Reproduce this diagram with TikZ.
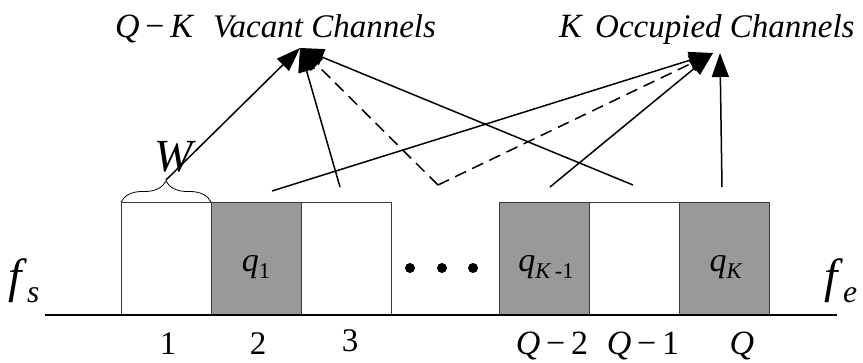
\documentclass[tikz,border=0pt]{standalone}
\usepackage{fontspec}
\setmainfont{Liberation Serif}
\usetikzlibrary{arrows.meta,positioning,calc,decorations.pathreplacing}
\definecolor{chGray}{HTML}{999999}
\definecolor{chEdge}{HTML}{3A3A3A}
\newcommand{\fsz}[1]{\fontsize{#1}{#1}\selectfont}
\newcommand{\sub}[1]{\raisebox{-0.45ex}{\scalebox{0.66}{#1}}}

\begin{document}
\begin{tikzpicture}[x=1pt,y=-1pt,
  b/.style={draw=chEdge, fill=white, line width=0.8pt, minimum width=90pt,
            minimum height=113pt, inner sep=0pt, outer sep=0pt},
  o/.style={b, fill=chGray},
  a/.style={-{Triangle[length=24pt,width=17pt]}, draw=black, line width=1.5pt},
  ad/.style={a, dash pattern=on 12pt off 7pt},
  lb/.style={font=\fsz{34}, inner sep=0pt},
  dot/.style={circle, fill=black, minimum size=10pt, inner sep=0pt}]
  \useasboundingbox (0,0) rectangle (863,363);
  % channels
  \node[b] (c1) at (166,258.5) {};
  \node[o, right=0pt of c1] (c2) {};
  \node[b, right=0pt of c2] (c3) {};
  \node[o] (cq2) at (544,258.5) {};
  \node[b, right=0pt of cq2] (cq1) {};
  \node[o, right=0pt of cq1] (cq) {};
  \node[lb] (q1) at ($(c2)+(0,9)$) {\textit{q}\sub{1}};
  \node[lb] (qk1) at ($(cq2)+(2,9)$) {\textit{q}\sub{\textit{K}\,-1}};
  \node[lb] (qk) at ($(cq)+(2,9)$) {\textit{q}\sub{\textit{K}}};
  \node[dot] (d1) at (410,268) {};
  \node[dot] (d2) at (442,268) {};
  \node[dot] (d3) at (473,268) {};
  % band edges
  \coordinate (fs) at (45,315);
  \coordinate (fe) at (837,315);
  \draw[line width=1.6pt] (fs) -- (fe);
  \node[lb, font=\fsz{48}, anchor=base west] (lfs) at (8,293) {\textit{f}\sub{\textit{s}}};
  \node[lb, font=\fsz{48}, anchor=base west] (lfe) at (824,293) {\textit{f}\sub{\textit{e}}};
  % indices
  \node[lb, font=\fsz{33}, anchor=base] (n1) at (168,355) {1};
  \node[lb, font=\fsz{33}, anchor=base] (n2) at (258,355) {2};
  \node[lb, font=\fsz{33}, anchor=base] (n3) at (350,352) {3};
  \node[lb, anchor=base] (nq2) at (552,355) {\textit{Q}\,−\,2};
  \node[lb, anchor=base] (nq1) at (643,355) {\textit{Q}\,−\,1};
  \node[lb, anchor=base] (nq) at (742,355) {\textit{Q}};
  % bandwidth brace
  \draw[decorate, decoration={brace, amplitude=21pt}, line width=0.8pt]
    (c1.north west) -- (c1.north east);
  \node[lb, font=\fsz{46}, anchor=base] (w) at (175,172) {\textit{W}};
  % titles
  \node[lb, anchor=base west] (tqk) at (115,38) {\textit{Q}\,−\,\textit{K}};
  \node[lb, font=\fsz{33}\itshape, anchor=base west] (tvac) at (213,38) {Vacant Channels};
  \node[lb, anchor=base west] (tk) at (559,38) {\textit{K}};
  \node[lb, font=\fsz{33}\itshape, anchor=base west] (tocc) at (595,38) {Occupied Channels};
  % arrows
  \coordinate (vac) at (300,48);
  \coordinate (occ) at (713,53);
  \coordinate (occv) at (720,53);
  \coordinate (sw) at (166,180);
  \coordinate (s2) at (272,191);
  \coordinate (s3) at (340,187);
  \coordinate (sd) at (438,185);
  \coordinate (sq2) at (550,187);
  \coordinate (sq1) at (633,185);
  \coordinate (sq) at (722,187);
  \draw[a] (sw) -- (vac);
  \draw[a] (s3) -- (vac);
  \draw[a] (sq1) -- (vac);
  \draw[ad] (sd) -- (vac);
  \draw[ad] (sd) -- (occ);
  \draw[a] (s2) -- (occ);
  \draw[a] (sq2) -- (occ);
  \draw[a] (sq) -- (occv);
\end{tikzpicture}
\end{document}
